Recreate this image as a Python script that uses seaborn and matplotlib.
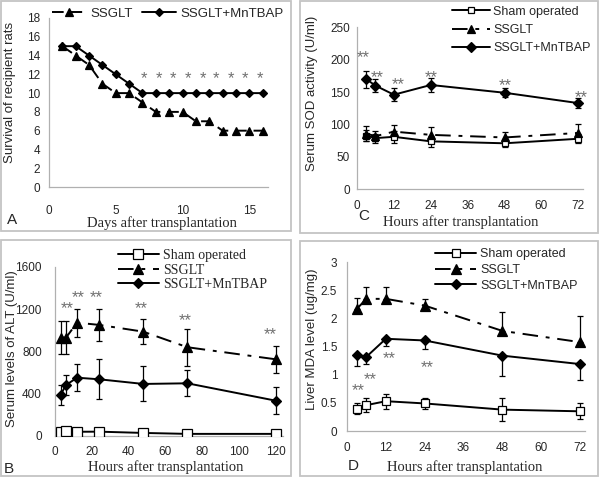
import matplotlib.pyplot as plt
from matplotlib.patches import Rectangle
from matplotlib.ticker import MultipleLocator
from matplotlib.transforms import offset_copy
import seaborn as sns

# ---- data ----
days = [1, 2, 3, 4, 5, 6, 7, 8, 9, 10, 11, 12, 13, 14, 15, 16]
surv_ssglt = [15, 14, 13, 11, 10, 10, 9, 8, 8, 8, 7, 7, 6, 6, 6, 6]
surv_mntbap = [15, 15, 14, 13, 12, 11, 10, 10, 10, 10, 10, 10, 10, 10, 10, 10]
surv_star_x = [7.1, 8.2, 9.3, 10.4, 11.5, 12.5, 13.6, 14.7, 15.8]
surv_star_y = [12] * 9

hours_b = [3, 6, 12, 24, 48, 72, 120]
alt_sham = [42, 48, 40, 41, 29, 20, 20]
alt_sham_err = [12, 10, 10, 10, 8, 6, 6]
alt_ssglt = [930, 930, 1071, 1050, 986, 839, 725]
alt_ssglt_err = [158, 158, 133, 153, 117, 173, 125]
alt_mntbap = [388, 482, 551, 536, 492, 498, 334]
alt_mntbap_err = [95, 95, 126, 190, 165, 123, 125]
alt_star_x = [6.5, 12.8, 22.5, 47, 71, 117]
alt_star_y = [1250, 1352, 1352, 1248, 1135, 996]

hours = [3, 6, 12, 24, 48, 72]
sod_sham = [83, 79, 81, 74, 71, 78]
sod_sham_err = [9, 7, 9, 8, 6, 7]
sod_ssglt = [86, 82, 89, 84, 80, 87]
sod_ssglt_err = [12, 8, 11, 12, 8, 14]
sod_mntbap = [170, 160, 146, 161, 149, 133]
sod_mntbap_err = [13, 10, 10, 11, 7, 8]
sod_star_x = [2, 6.6, 13.4, 24, 48.2, 72.9]
sod_star_y = [210, 179, 168, 179, 167, 149]

mda_sham = [0.40, 0.46, 0.53, 0.49, 0.38, 0.35]
mda_sham_err = [0.09, 0.12, 0.13, 0.10, 0.21, 0.14]
mda_ssglt = [2.17, 2.35, 2.35, 2.23, 1.78, 1.58]
mda_ssglt_err = [0.20, 0.21, 0.21, 0.12, 0.33, 0.47]
mda_mntbap = [1.36, 1.32, 1.64, 1.61, 1.34, 1.19]
mda_mntbap_err = [0.20, 0.12, 0.13, 0.16, 0.37, 0.28]
mda_star_x = [3.5, 7.2, 13, 24.7]
mda_star_y = [0.80, 0.99, 1.36, 1.20]

sns.set_style("white")
plt.rcParams['font.family'] = ['Liberation Sans', 'DejaVu Sans']
SERIF = ['Liberation Serif', 'DejaVu Serif']
AXIS_GRAY = '#b0b0b0'
STAR_GRAY = '#707070'
DASHED = (0, (6, 3.5))
DASHDOT = (0, (8, 4, 2, 4))

W, H = 600, 478
fig = plt.figure(figsize=(6, 4.78), dpi=100)


def px_axes(left, right, bottom, top):
    return fig.add_axes([left / W, 1 - bottom / H, (right - left) / W, (bottom - top) / H])


def style_axes(ax, xmaj, ymaj, xlim, ylim, xpad, ypad):
    sns.despine(ax=ax)
    for s in ('left', 'bottom'):
        ax.spines[s].set_color(AXIS_GRAY)
        ax.spines[s].set_linewidth(0.9)
    ax.set_xlim(*xlim)
    ax.set_ylim(*ylim)
    ax.xaxis.set_major_locator(MultipleLocator(xmaj))
    ax.xaxis.set_minor_locator(MultipleLocator(xmaj / 5))
    ax.yaxis.set_major_locator(MultipleLocator(ymaj))
    ax.yaxis.set_minor_locator(MultipleLocator(ymaj / 5))
    ax.tick_params(which='both', direction='in', color=AXIS_GRAY, width=0.8, labelsize=8.5)
    ax.tick_params(which='major', length=4)
    ax.tick_params(which='minor', length=2.5)
    ax.tick_params(axis='x', pad=xpad)
    ax.tick_params(axis='y', pad=ypad)


def series(ax, x, y, err=None, mode='both', marker='D', ms=5, ls='-', fill='black', label=None):
    if err is not None:
        lo = err if mode in ('both', 'minus') else [0] * len(err)
        hi = err if mode in ('both', 'plus') else [0] * len(err)
        ax.errorbar(x, y, yerr=[lo, hi], fmt='none', ecolor='black', elinewidth=0.9,
                    capsize=2.5, capthick=0.9, zorder=2)
    sns.lineplot(x=x, y=y, ax=ax, color='black', linewidth=1.4, linestyle=ls,
                 marker=marker, markersize=ms, markerfacecolor=fill,
                 markeredgecolor='black', markeredgewidth=0.9, label=label, zorder=3)


def stars(ax, xs, ys, txt='**', size=12):
    tr = offset_copy(ax.transData, fig=fig, y=-9, units='dots')
    for x, y in zip(xs, ys):
        ax.text(x, y, txt, transform=tr, ha='center', va='baseline', color=STAR_GRAY, fontsize=size)


def labels(ax, xlabel, xpos, ylabel, ypos):
    ax.set_xlabel(xlabel, family=SERIF, fontsize=10.5)
    ax.xaxis.set_label_coords(*xpos)
    ax.xaxis.label.set_va('center')
    ax.set_ylabel(ylabel, fontsize=9.5)
    ax.yaxis.set_label_coords(*ypos)
    ax.yaxis.label.set_va('center')


# ---- panel A ----
axA = px_axes(49, 268, 187, 18)
series(axA, days, surv_ssglt, marker='^', ms=5.5, ls=DASHED, label='SSGLT')
series(axA, days, surv_mntbap, marker='D', ms=4, label='SSGLT+MnTBAP')
style_axes(axA, 5, 2, (0, 16.4), (0, 18), 13, 6.5)
stars(axA, surv_star_x, surv_star_y, txt='*')
labels(axA, 'Days after transplantation', (0.514, -0.213), 'Survival of recipient rats', (-0.178, 0.56))
axA.legend(loc='center left', bbox_to_anchor=(52 / W, 1 - 14 / H), bbox_transform=fig.transFigure,
           ncol=2, frameon=False, fontsize=9.5, handlelength=2.6, handletextpad=0.3,
           columnspacing=0.7, borderaxespad=0, borderpad=0)

# ---- panel C ----
axC = px_axes(357, 583, 189.3, 27.3)
series(axC, hours, sod_sham, sod_sham_err, marker='s', ms=4, fill='white', label='Sham operated')
series(axC, hours, sod_ssglt, sod_ssglt_err, marker='^', ms=5.5, ls=DASHDOT, label='SSGLT')
series(axC, hours, sod_mntbap, sod_mntbap_err, marker='D', ms=5, label='SSGLT+MnTBAP')
style_axes(axC, 12, 50, (0, 73.5), (0, 250), 8, 5)
stars(axC, sod_star_x, sod_star_y)
labels(axC, 'Hours after transplantation', (0.461, -0.2), 'Serum SOD activity (U/ml)', (-0.2, 0.594))
axC.legend(loc='center left', bbox_to_anchor=(452 / W, 1 - 30 / H), bbox_transform=fig.transFigure,
           frameon=False, fontsize=9, handlelength=3.0, handletextpad=0.3, labelspacing=0.5,
           borderaxespad=0, borderpad=0)

# ---- panel B ----
axB = px_axes(55, 283, 436, 266.7)
series(axB, hours_b, alt_sham, alt_sham_err, marker='s', ms=6.5, fill='white', label='Sham operated')
series(axB, hours_b, alt_ssglt, alt_ssglt_err, marker='^', ms=6.5, ls=DASHDOT, label='SSGLT')
series(axB, hours_b, alt_mntbap, alt_mntbap_err, marker='D', ms=5.5, label='SSGLT+MnTBAP')
style_axes(axB, 20, 400, (0, 124), (0, 1600), 7, 9.5)
stars(axB, alt_star_x, alt_star_y)
labels(axB, 'Hours after transplantation', (0.487, -0.183), 'Serum levels of ALT (U/ml)', (-0.189, 0.514))
axB.legend(loc='center left', bbox_to_anchor=(118 / W, 1 - 270 / H), bbox_transform=fig.transFigure,
           frameon=False, prop={'family': SERIF, 'size': 10}, handlelength=2.95, handletextpad=0.3,
           labelspacing=0.1, borderaxespad=0, borderpad=0)

# ---- panel D ----
axD = px_axes(347, 585, 431, 262.3)
series(axD, hours, mda_sham, mda_sham_err, marker='s', ms=6, fill='white', label='Sham operated')
series(axD, hours, mda_ssglt, mda_ssglt_err, mode='plus', marker='^', ms=6.5, ls=DASHDOT, label='SSGLT')
series(axD, hours, mda_mntbap, mda_mntbap_err, mode='minus', marker='D', ms=5.5, label='SSGLT+MnTBAP')
style_axes(axD, 12, 0.5, (0, 73.5), (0, 3), 8, 7)
axD.yaxis.set_major_formatter(plt.FuncFormatter(lambda v, p: f'{v:g}'))
stars(axD, mda_star_x, mda_star_y)
labels(axD, 'Hours after transplantation', (0.496, -0.213), 'Liver MDA level (ug/mg)', (-0.147, 0.545))
axD.legend(loc='center left', bbox_to_anchor=(435 / W, 1 - 270 / H), bbox_transform=fig.transFigure,
           frameon=False, fontsize=9, handlelength=3.3, handletextpad=0.3, labelspacing=0.3,
           borderaxespad=0, borderpad=0)

# ---- panel frames and letters ----
for x0, y0, x1, y1 in [(1, 1, 291, 231), (300, 1, 598, 233), (1, 240, 291, 476), (300, 241, 598, 476)]:
    fig.add_artist(Rectangle((x0 / W, 1 - y1 / H), (x1 - x0) / W, (y1 - y0) / H,
                             transform=fig.transFigure, fill=False, edgecolor='#c4c4c4', linewidth=1.3))
for letter, x, y in [('A', 12, 220), ('C', 364, 216), ('B', 9, 469), ('D', 353, 466)]:
    fig.text(x / W, 1 - y / H, letter, fontsize=11, ha='center', va='center')

fig.savefig('out.png', dpi=100)
